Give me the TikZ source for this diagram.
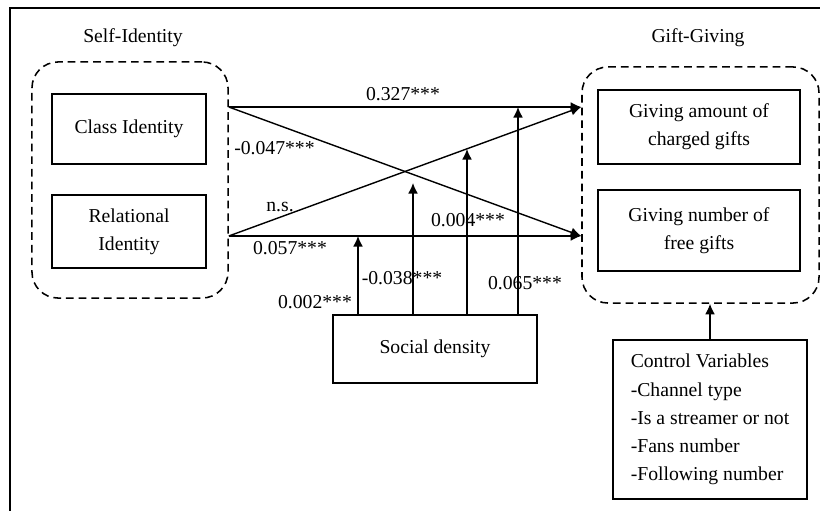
\documentclass[tikz,border=0pt]{standalone}
\usepackage{fontspec}
\setmainfont{Liberation Serif}
\usetikzlibrary{positioning,arrows.meta}
\tikzstyle{frame} = [line width=1.4pt, line cap=rect]
\tikzstyle{arrow} = [line width=1pt, -{Latex[length=7.5pt, width=7pt]}]
\tikzstyle{pathlabel} = [inner sep=0pt, font=\fontsize{14}{17}\selectfont]
\tikzstyle{grouplabel} = [inner sep=0pt, font=\fontsize{14}{17}\selectfont]
\tikzstyle{groupbox} = [
    rectangle,                 % Shape
    draw=black,                % Border color
    line width=1.1pt,          % Border width
    dash pattern=on 5.5pt off 3.5pt,
    rounded corners=0.65cm,    % Round corners of the group
    inner sep=0pt
]
\tikzstyle{varbox} = [
    rectangle,                 % Shape
    draw=black,                % Border color
    line width=1.3pt,          % Border width
    align=center,              % Centered text
    inner sep=2pt,
    font=\fontsize{14}{20}\selectfont
]

\begin{document}
\begin{tikzpicture}[x=0.025cm, y=-0.025cm]
		\useasboundingbox (0,0) rectangle (820,511);

		% Frame
		\draw[frame] (10,511) -- (10,8) -- (820,8);

		% Self-Identity group
		\node[groupbox, minimum width=4.9cm, minimum height=5.9cm] (selfid) at (130,180) {};
		\node[grouplabel] (selflabel) at (133,38) {Self-Identity};
		\node[varbox, minimum width=3.85cm, minimum height=1.75cm] (class) at (129,129) {Class Identity};
		\node[varbox, minimum width=3.85cm, minimum height=1.83cm] (relational) at (129,231.5) {Relational\\Identity};

		% Gift-Giving group
		\node[groupbox, minimum width=5.925cm, minimum height=5.9cm] (gift) at (700.5,185) {};
		\node[grouplabel] (giftlabel) at (698,38) {Gift-Giving};
		\node[varbox, minimum width=5.03cm, minimum height=1.85cm] (amount) at (699,127) {Giving amount of\\charged gifts};
		\node[varbox, minimum width=5.03cm, minimum height=2.03cm] (number) at (699,230.5) {Giving number of\\free gifts};

		% Moderator and controls
		\node[varbox, minimum width=5.1cm, minimum height=1.7cm] (social) at (435,349) {Social density};
		\node[varbox, minimum width=4.85cm, minimum height=3.98cm, align=left] (control) at (710,419.5)
			{Control Variables\\-Channel type\\-Is a streamer or not\\-Fans number\\-Following number};

		% Path end points
		\coordinate (ci) at (selfid.east |- 0,107);
		\coordinate (ri) at (selfid.east |- 0,236);
		\coordinate (ca) at (gift.west |- 0,107);
		\coordinate (fn) at (gift.west |- 0,236);
		\coordinate (m1) at (358,236);
		\coordinate (m2) at (413,183);
		\coordinate (m3) at (467,149);
		\coordinate (m4) at (518,107);

		% Arrows
		\draw[arrow] (ci) -- (ca);
		\draw[arrow] (ci) -- (fn);
		\draw[arrow] (ri) -- (ca);
		\draw[arrow] (ri) -- (fn);

		\draw[arrow] (social.north -| m1) -- (m1);
		\draw[arrow] (social.north -| m2) -- (m2);
		\draw[arrow] (social.north -| m3) -- (m3);
		\draw[arrow] (social.north -| m4) -- (m4);

		\draw[arrow] (control.north) -- (control.north |- gift.south);

		% Coefficients
		\node[pathlabel] (l327) at (403,94) {0.327***};
		\node[pathlabel, anchor=west] (l047) at (234,148) {-0.047***};
		\node[pathlabel] (lns) at (280,207) {n.s.};
		\node[pathlabel] (l057) at (290,248) {0.057***};
		\node[pathlabel] (l004) at (468,220) {0.004***};
		\node[pathlabel] (l038) at (402,278) {-0.038***};
		\node[pathlabel] (l002) at (315,302) {0.002***};
		\node[pathlabel] (l065) at (525,283) {0.065***};
	\end{tikzpicture}
\end{document}
